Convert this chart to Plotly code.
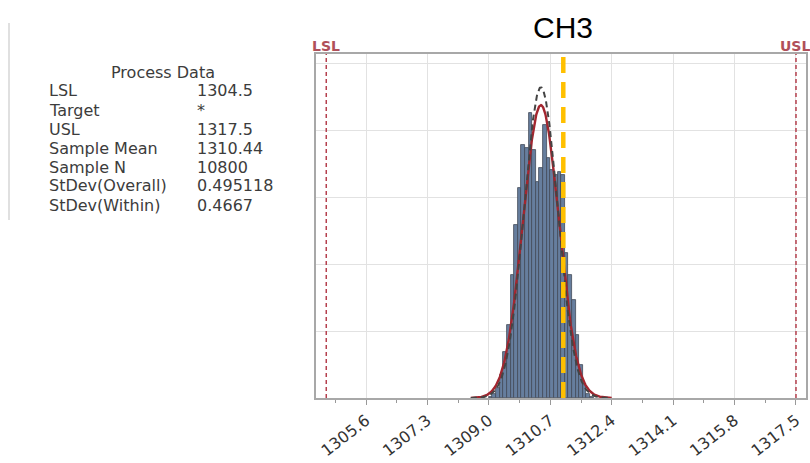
import numpy as np
import plotly.graph_objects as go

# ---- data ----
title = "CH3"
LSL = 1304.5
USL = 1317.5
sample_mean = 1310.44
sd_overall = 0.495118
sd_within = 0.4667
marker_line_x = 1311.06          # yellow dashed reference line
curve_from, curve_to = 1308.5, 1312.4

process_labels = ["LSL", "Target", "USL", "Sample Mean", "Sample N", "StDev(Overall)", "StDev(Within)"]
process_values = ["1304.5", "*", "1317.5", "1310.44", "10800", "0.495118", "0.4667"]

bin_centers = [1309.05, 1309.15, 1309.25, 1309.35, 1309.45, 1309.55, 1309.65, 1309.75,
               1309.85, 1309.95, 1310.05, 1310.15, 1310.25, 1310.35, 1310.45, 1310.55,
               1310.65, 1310.75, 1310.85, 1310.95, 1311.05, 1311.15, 1311.25, 1311.35,
               1311.45, 1311.55, 1311.65, 1311.75, 1311.85]
bin_density = [0.003, 0.011, 0.028, 0.063, 0.127, 0.201, 0.338, 0.476,
               0.578, 0.696, 0.688, 0.784, 0.682, 0.594, 0.633, 0.751,
               0.660, 0.627, 0.613, 0.622, 0.613, 0.399, 0.338, 0.270,
               0.173, 0.091, 0.036, 0.011, 0.003]
bin_width = 0.1

tick_vals = [1305.6, 1307.3, 1309.0, 1310.7, 1312.4, 1314.1, 1315.8, 1317.5]

# ---- layout geometry (pixels) ----
W, H = 810, 463
PL, PR, PT, PB = 316, 806, 54, 398


def px(x):
    return x / W


def py(y):
    return 1 - y / H


def normal_pdf(x, m, s):
    return np.exp(-0.5 * ((x - m) / s) ** 2) / (s * np.sqrt(2 * np.pi))


xs = np.linspace(curve_from, curve_to, 400)

fig = go.Figure()
fig.add_trace(go.Bar(
    x=bin_centers, y=bin_density, width=bin_width,
    marker=dict(color="#667e9e", line=dict(color="#414a58", width=0.8)),
    showlegend=False, hoverinfo="skip"))
fig.add_trace(go.Scatter(
    x=xs, y=normal_pdf(xs, sample_mean, sd_overall), mode="lines",
    line=dict(color="#a3262f", width=2.4), showlegend=False, hoverinfo="skip"))
fig.add_trace(go.Scatter(
    x=xs, y=normal_pdf(xs, sample_mean, sd_within), mode="lines",
    line=dict(color="#444444", width=2, dash="6px,4px"), showlegend=False, hoverinfo="skip"))

y_top = 0.9464
grid_step = 0.1843

shapes = [
    dict(type="line", xref="x", yref="y domain", x0=LSL, x1=LSL, y0=0, y1=1,
         line=dict(color="#b5404e", width=1.5, dash="4px,3px")),
    dict(type="line", xref="x", yref="y domain", x0=USL, x1=USL, y0=0, y1=1,
         line=dict(color="#b5404e", width=1.5, dash="4px,3px")),
    dict(type="line", xref="x", yref="y domain", x0=marker_line_x, x1=marker_line_x,
         y0=0, y1=(PB - 57) / (PB - PT),
         line=dict(color="#FFC000", width=4.5, dash="16px,9px")),
    dict(type="line", xref="paper", yref="paper", x0=px(9), x1=px(9), y0=py(220), y1=py(23),
         line=dict(color="#d6d6d6", width=1.5)),
]

annotations = [
    dict(text=title, xref="paper", yref="paper", x=px(563), y=py(27), xanchor="center",
         yanchor="middle", showarrow=False,
         font=dict(family="Liberation Sans, Arial", size=30, color="#000000")),
    dict(text="<b>LSL</b>", xref="paper", yref="paper", x=px(326), y=py(46), xanchor="center",
         yanchor="middle", showarrow=False,
         font=dict(family="DejaVu Sans", size=14, color="#b0505a")),
    dict(text="<b>USL</b>", xref="paper", yref="paper", x=px(795), y=py(46), xanchor="center",
         yanchor="middle", showarrow=False,
         font=dict(family="DejaVu Sans", size=14, color="#b0505a")),
    dict(text="Process Data", xref="paper", yref="paper", x=px(163), y=py(72), xanchor="center",
         yanchor="middle", showarrow=False,
         font=dict(family="DejaVu Sans", size=16, color="#3c3c3c")),
]
row_y = [91, 110, 129, 148, 167, 186, 205]
for lab, val, yy in zip(process_labels, process_values, row_y):
    annotations.append(dict(text=lab, xref="paper", yref="paper", x=px(47), y=py(yy),
                            xanchor="left", yanchor="middle", showarrow=False,
                            font=dict(family="DejaVu Sans", size=16, color="#3c3c3c")))
    annotations.append(dict(text=val, xref="paper", yref="paper", x=px(195), y=py(yy),
                            xanchor="left", yanchor="middle", showarrow=False,
                            font=dict(family="DejaVu Sans", size=16, color="#3c3c3c")))

fig.update_layout(
    width=W, height=H, template="none",
    margin=dict(l=0, r=0, t=0, b=0, pad=0),
    paper_bgcolor="white", plot_bgcolor="white",
    bargap=0, shapes=shapes, annotations=annotations,
    xaxis=dict(domain=[px(PL), px(PR)], range=[1304.216, 1317.777], autorange=False,
               tickmode="array", tickvals=tick_vals, ticktext=[f"{v:.1f}" for v in tick_vals],
               tickangle=-38, tickfont=dict(family="DejaVu Sans", size=16, color="#333333"),
               ticks="outside", ticklen=5, tickcolor="#999999",
               minor=dict(dtick=0.85, tick0=1305.6, ticks="outside", ticklen=3,
                          tickcolor="#999999", showgrid=False),
               showgrid=True, gridcolor="#e2e2e2", gridwidth=1,
               showline=True, linecolor="#a8a8a8", linewidth=2, mirror=True,
               zeroline=False, automargin=False),
    yaxis=dict(domain=[py(PB), py(PT)], range=[0, y_top], autorange=False,
               tickmode="array", tickvals=[grid_step * k for k in range(1, 6)],
               showticklabels=False, ticks="",
               showgrid=True, gridcolor="#e2e2e2", gridwidth=1,
               showline=True, linecolor="#a8a8a8", linewidth=2, mirror=True,
               zeroline=False, automargin=False),
)

fig.write_html("out.html")
